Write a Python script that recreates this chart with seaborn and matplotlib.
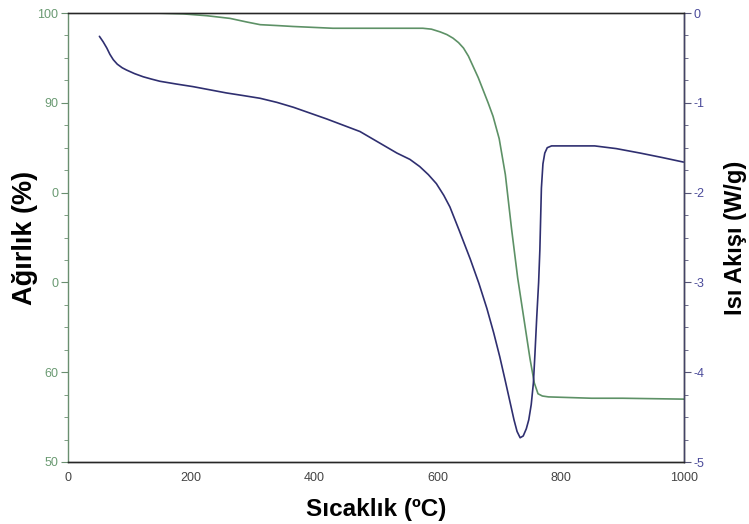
import matplotlib
matplotlib.use("Agg")
import matplotlib.pyplot as plt
from matplotlib.ticker import FixedLocator, MultipleLocator
import seaborn as sns
import pandas as pd

# Weight (TGA) curve, left axis
temp_w = [50, 105, 150, 187, 225, 263, 290, 312, 340, 365, 430, 500, 576, 590, 604, 615, 625,
          634, 642, 650, 658, 666, 674, 682, 690, 700, 710, 720, 730, 740, 750, 757, 763,
          770, 780, 850, 900, 1000]
weight = [100.0, 100.0, 99.98, 99.9, 99.7, 99.4, 99.0, 98.7, 98.6, 98.5, 98.3, 98.3, 98.3, 98.2,
          97.9, 97.6, 97.2, 96.7, 96.1, 95.2, 94.0, 92.8, 91.4, 90.0, 88.5, 86.0, 82.0, 76.0,
          70.5, 66.0, 61.5, 58.8, 57.6, 57.35, 57.25, 57.1, 57.1, 57.0]

# Heat flow (DSC) curve, right axis
temp_h = [51, 57, 63, 68, 73.5, 80, 88, 95, 108, 122, 135, 149, 175, 203, 230, 257, 285, 312,
          339, 366, 393, 420, 447, 474, 504, 534, 555, 571, 585, 598, 610, 620, 635, 653, 667,
          680, 691, 701, 710, 717.5, 724, 729, 734, 739, 744, 748, 752, 755.5, 758, 761, 764,
          766, 768.5, 771, 774, 778, 785, 855, 890, 929, 965, 999]
heat = [-0.26, -0.32, -0.39, -0.46, -0.52, -0.57, -0.61, -0.635, -0.675, -0.71, -0.735, -0.76,
        -0.79, -0.82, -0.855, -0.89, -0.92, -0.95, -0.995, -1.05, -1.115, -1.18, -1.25, -1.32,
        -1.44, -1.56, -1.63, -1.71, -1.80, -1.90, -2.03, -2.16, -2.42, -2.74, -3.01, -3.29,
        -3.56, -3.83, -4.10, -4.33, -4.53, -4.66, -4.73, -4.71, -4.63, -4.53, -4.36, -4.12,
        -3.80, -3.38, -3.00, -2.64, -1.95, -1.68, -1.56, -1.50, -1.48, -1.48, -1.51, -1.56,
        -1.61, -1.66]

x_ticks = [0, 200, 400, 600, 800, 1000]
left_ticks = [50, 60, 70, 80, 90, 100]
left_labels = ["50", "60", "0", "0", "90", "100"]
right_ticks = [0, -1, -2, -3, -4, -5]
right_labels = ["0", "-1", "-2", "-3", "-4", "-5"]

GREEN = "#5d9166"
NAVY = "#2f2f70"

sns.set_style("white")
plt.rcParams['font.family'] = ['Liberation Sans', 'DejaVu Sans']

fig = plt.figure(figsize=(7.49, 5.24), dpi=100)
ax = fig.add_axes([68/749, 1-462/524, (684-68)/749, (462-13)/524])
ax2 = ax.twinx()

dfw = pd.DataFrame({"T": temp_w, "W": weight})
dfh = pd.DataFrame({"T": temp_h, "H": heat})
sns.lineplot(data=dfw, x="T", y="W", ax=ax, color=GREEN, linewidth=1.2, sort=False)
sns.lineplot(data=dfh, x="T", y="H", ax=ax2, color=NAVY, linewidth=1.2, sort=False)

ax.set_xlim(0, 1000)
ax.set_ylim(50, 100)
ax2.set_ylim(-5, 0)

ax.xaxis.set_major_locator(FixedLocator(x_ticks))
ax.set_xticklabels([str(t) for t in x_ticks])
ax.xaxis.set_minor_locator(MultipleLocator(50))
ax.yaxis.set_major_locator(FixedLocator(left_ticks))
ax.set_yticklabels(left_labels)
ax.yaxis.set_minor_locator(MultipleLocator(2.5))
ax2.yaxis.set_major_locator(FixedLocator(right_ticks))
ax2.set_yticklabels(right_labels)
ax2.yaxis.set_minor_locator(MultipleLocator(0.25))

ax.tick_params(axis="x", which="major", direction="out", length=5, width=0.8, colors="#444444",
               labelsize=9, pad=2)
ax.tick_params(axis="x", which="minor", direction="out", length=3, width=0.6, colors="#444444")
ax.tick_params(axis="y", which="major", direction="out", length=5, width=0.8, colors="#6a8f70",
               labelcolor="#6a9a72", labelsize=9, pad=2)
ax.tick_params(axis="y", which="minor", direction="out", length=3, width=0.6, colors="#6a8f70")
ax2.tick_params(axis="y", which="major", direction="out", length=5, width=0.8, colors="#555577",
                labelcolor="#4a4a9a", labelsize=9, pad=2)
ax2.tick_params(axis="y", which="minor", direction="out", length=3, width=0.6, colors="#555577")

for a in (ax, ax2):
    for s in a.spines.values():
        s.set_linewidth(1.0)
ax.spines["left"].set_color("#6a8f70")
ax.spines["bottom"].set_color("#333333")
ax.spines["top"].set_color("#555555")
ax2.spines["right"].set_color("#444466")
ax2.spines["left"].set_visible(False)

ax.set_xlabel("Sıcaklık (ºC)", fontsize=17.5, fontweight="bold", color="black")
ax.set_ylabel("Ağırlık (%)", fontsize=19.5, fontweight="bold", color="black")
ax2.set_ylabel("Isı Akışı (W/g)", fontsize=17, fontweight="bold", color="black")
ax.xaxis.set_label_coords(0.5, -0.08)
ax.yaxis.set_label_coords((38 - 68) / 616, 0.5)
ax2.yaxis.set_label_coords((724 - 68) / 616, 0.5)

fig.savefig("out.png", dpi=100)
